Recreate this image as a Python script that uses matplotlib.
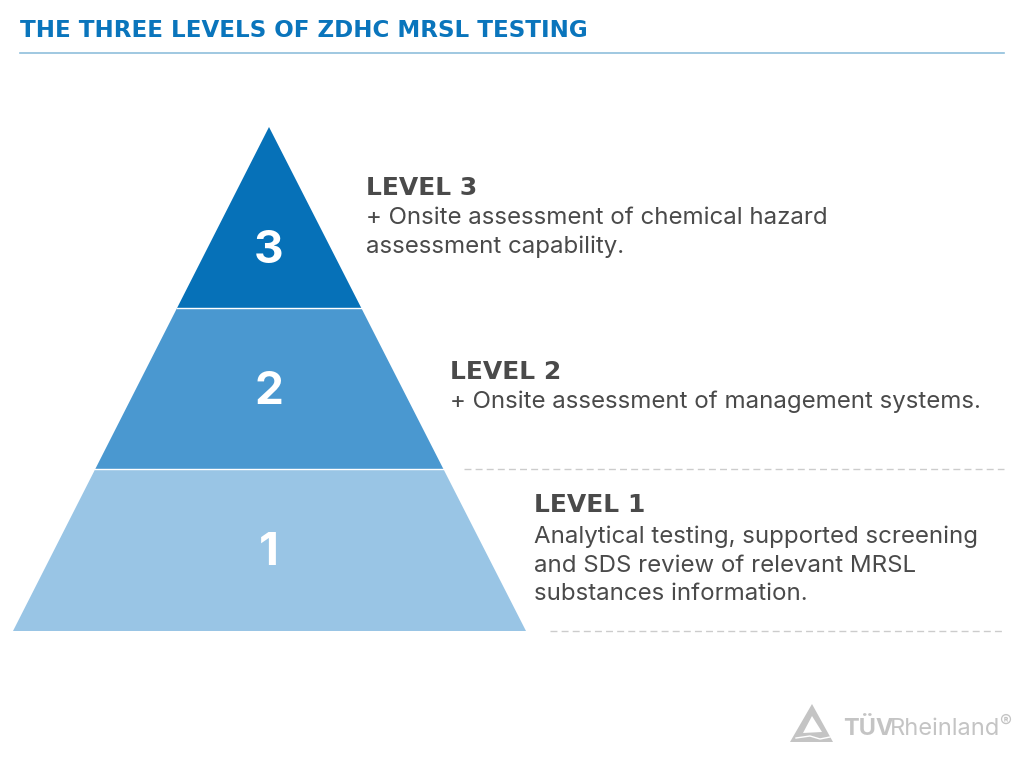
import matplotlib
matplotlib.use('Agg')
import matplotlib.pyplot as plt
from matplotlib.patches import Polygon

# pyramid geometry, in image pixels
apex = (269, 127)
base_left = 13
base_right = 526
level_edges = [127, 308, 469, 631]   # top to bottom
level_numbers = ['3', '2', '1']
number_y = [251, 392, 553]
level_colors = ['#0671b8', '#4a98d0', '#99c5e5']

title = 'THE THREE LEVELS OF ZDHC MRSL TESTING'
headings = ['LEVEL 3', 'LEVEL 2', 'LEVEL 1']
heading_x = [366, 450, 534]
heading_y = [195, 379, 512]
body_lines = [
    ['+ Onsite assessment of chemical hazard', 'assessment capability.'],
    ['+ Onsite assessment of management systems.'],
    ['Analytical testing, supported screening', 'and SDS review of relevant MRSL', 'substances information.'],
]
body_y = [[224, 253], [408], [543, 572, 600]]

text_color = '#4a4a4a'
blue = '#0a75bc'
logo_gray = '#c4c4c4'
font = 'Inter'
wide_font = 'DejaVu Sans'

fig = plt.figure(figsize=(10.24, 7.68), dpi=100)
ax = fig.add_axes([0, 0, 1, 1])
ax.set_xlim(0, 1024)
ax.set_ylim(768, 0)
ax.axis('off')


def edge_x(y):
    t = (y - level_edges[0]) / (level_edges[-1] - level_edges[0])
    return apex[0] + (base_left - apex[0]) * t, apex[0] + (base_right - apex[0]) * t


# title and rule
ax.text(20, 37, title, color=blue, fontsize=16.6, fontweight='bold', family=wide_font, va='baseline')
ax.plot([20, 1004], [53, 53], color='#8fbfdc', lw=1.2)

# pyramid
for i in range(3):
    y0, y1 = level_edges[i], level_edges[i + 1]
    l0, r0 = edge_x(y0)
    l1, r1 = edge_x(y1)
    ax.add_patch(Polygon([(l0, y0), (r0, y0), (r1, y1), (l1, y1)], closed=True, fc=level_colors[i], ec='none'))
    ax.text(269, number_y[i], level_numbers[i], color='white', fontsize=33, fontweight='bold',
            family=font, ha='center', va='center')

# separators between the levels
for y in level_edges[1:3]:
    l, r = edge_x(y)
    ax.plot([l, r], [y, y], color='white', lw=1)

# dashed guides
ax.plot([464, 1004], [469, 469], color='#cccccc', lw=1, dashes=(5, 3))
ax.plot([550, 1004], [631, 631], color='#cccccc', lw=1, dashes=(5, 3))

# level descriptions
for i in range(3):
    ax.text(heading_x[i], heading_y[i], headings[i], color=text_color, fontsize=18, fontweight='bold',
            family=wide_font, va='baseline')
    for line, y in zip(body_lines[i], body_y[i]):
        ax.text(heading_x[i], y, line, color=text_color, fontsize=17.3, family=font, va='baseline')

# logo
ax.add_patch(Polygon([(812, 704), (833, 742), (790, 742)], closed=True, fc=logo_gray, ec='none'))
ax.add_patch(Polygon([(812, 716), (822, 732), (803, 733)], closed=True, fc='white', ec='none'))
ax.plot([796, 810, 820, 830], [738, 736, 739, 737], color='white', lw=1)
ax.text(843, 735, 'TÜV', color=logo_gray, fontsize=17, fontweight='bold', family=font, va='baseline')
ax.text(890, 735, 'Rheinland', color=logo_gray, fontsize=17, family=font, va='baseline')
ax.text(999, 727, '®', color=logo_gray, fontsize=13, family=font, va='baseline')

fig.savefig('out.png', dpi=100)
